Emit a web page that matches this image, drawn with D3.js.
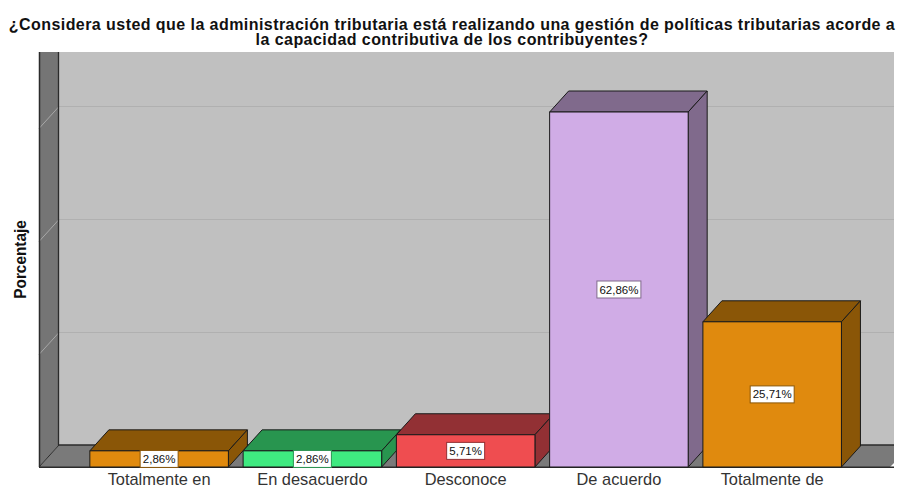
<!DOCTYPE html>
<html><head><meta charset="utf-8">
<script src="https://cdn.jsdelivr.net/npm/d3@7"></script>
<style>html,body{margin:0;padding:0;background:#fff;overflow:hidden}svg{display:block}text{font-family:"Liberation Sans",Arial,sans-serif}</style>
</head><body><svg id="c" width="897" height="489"></svg>
<script>
const categories = ["Totalmente en","En desacuerdo","Desconoce","De acuerdo","Totalmente de"];
const values = [2.86,2.86,5.71,62.86,25.71];
const valueLabels = ["2,86%","2,86%","5,71%","62,86%","25,71%"];
const frontColors = ["#e08a0e","#3fea80","#ef4d50","#d0ace6","#e08a0e"];
const sideColors = ["#8a5607","#28954f","#923034","#806a8c","#8a5607"];
const gridTicks = [20,40,60];
const titleLines = ["¿Considera usted que la administración tributaria está realizando una gestión de políticas tributarias acorde a","la capacidad contributiva de los contribuyentes?"];

const svg = d3.select("#c");
const wallL=39, wallR=894, wallT=52, base=467, dx=20, dy=22, barDx=19, barDy=21;
const y = d3.scaleLinear().domain([0,62.86]).range([base,112]);
const x = d3.scaleBand().domain(categories).range([82.5,848.8]).paddingInner(.096).paddingOuter(.048);
const pts = a=>a.map(p=>p.join(",")).join(" ");

svg.append("rect").attr("x",wallL+dx).attr("y",wallT).attr("width",wallR-wallL-dx).attr("height",base-dy-wallT).attr("fill","#c0c0c0");
svg.append("polygon").attr("points",pts([[wallL,wallT],[wallL+dx,wallT],[wallL+dx,base-dy],[wallL,base]])).attr("fill","#757575");
svg.append("polygon").attr("points",pts([[wallL,base],[wallL+dx,base-dy],[wallR,base-dy],[wallR,base-4],[wallR-4,base]])).attr("fill","#7a7a7a");

gridTicks.forEach(t=>{
  const gy=Math.round(y(t)-dy)+.5;
  svg.append("line").attr("x1",wallL+dx).attr("x2",wallR).attr("y1",gy).attr("y2",gy).attr("stroke","#b0b0b0");
  svg.append("line").attr("x1",wallL).attr("x2",wallL+dx).attr("y1",gy+dy).attr("y2",gy).attr("stroke","#a8a8a8");
});
const dark="#2b2b2b";
svg.append("path").attr("d",`M${wallL+.5},${wallT}V${base}`).attr("stroke",dark).attr("stroke-width",1.5).attr("fill","none");
svg.append("path").attr("d",`M${wallL+dx-.5},${wallT}V${base-dy}H${wallR}`).attr("stroke",dark).attr("stroke-width",1.3).attr("fill","none");
svg.append("line").attr("x1",wallL).attr("x2",wallL+dx).attr("y1",base).attr("y2",base-dy).attr("stroke",dark);
svg.append("line").attr("x1",wallL).attr("x2",wallR).attr("y1",base+.2).attr("y2",base+.2).attr("stroke",dark).attr("stroke-width",1.4);

const bars = svg.selectAll("g.bar").data(categories).join("g").attr("class","bar");
bars.each(function(c,i){
  const g=d3.select(this), x0=x(c), x1=x0+x.bandwidth(), yt=y(values[i]);
  const st={stroke:"#1a1a1a","stroke-width":1,"stroke-linejoin":"round"};
  const add=(sel)=>{for(const k in st) sel.attr(k,st[k]);return sel;};
  add(g.append("polygon").attr("points",pts([[x0,yt],[x0+barDx,yt-barDy],[x1+barDx,yt-barDy],[x1,yt]])).attr("fill",sideColors[i]));
  add(g.append("polygon").attr("points",pts([[x1,yt],[x1+barDx,yt-barDy],[x1+barDx,base-barDy],[x1,base]])).attr("fill",sideColors[i]));
  add(g.append("rect").attr("x",x0).attr("y",yt).attr("width",x1-x0).attr("height",base-yt).attr("fill",frontColors[i]));
});
bars.each(function(c,i){
  const g=d3.select(this), cx=x(c)+x.bandwidth()/2, cy=(y(values[i])+base)/2;
  const w=valueLabels[i].length>5?44:38, h=17;
  g.append("rect").attr("x",cx-w/2).attr("y",cy-h/2).attr("width",w).attr("height",h)
    .attr("fill","#fff").attr("stroke",sideColors[i]).attr("stroke-width",1);
  g.append("text").attr("x",cx).attr("y",cy+4).attr("text-anchor","middle").attr("font-size",11.5).attr("fill","#111").text(valueLabels[i]);
  g.append("text").attr("x",cx).attr("y",485).attr("text-anchor","middle").attr("font-size",16.4).attr("fill","#333").text(c);
});
svg.selectAll("text.title").data(titleLines).join("text").attr("class","title")
  .attr("x",452).attr("y",(d,i)=>29.5+i*15).attr("text-anchor","middle").attr("font-size",16).attr("letter-spacing",.44).attr("font-weight","bold").attr("fill","#111").text(d=>d);
svg.append("text").attr("transform","translate(26,259.5) rotate(-90) scale(.93,1)").attr("text-anchor","middle")
  .attr("font-size",16.5).attr("font-weight","bold").attr("fill","#111").text("Porcentaje");
</script></body></html>
